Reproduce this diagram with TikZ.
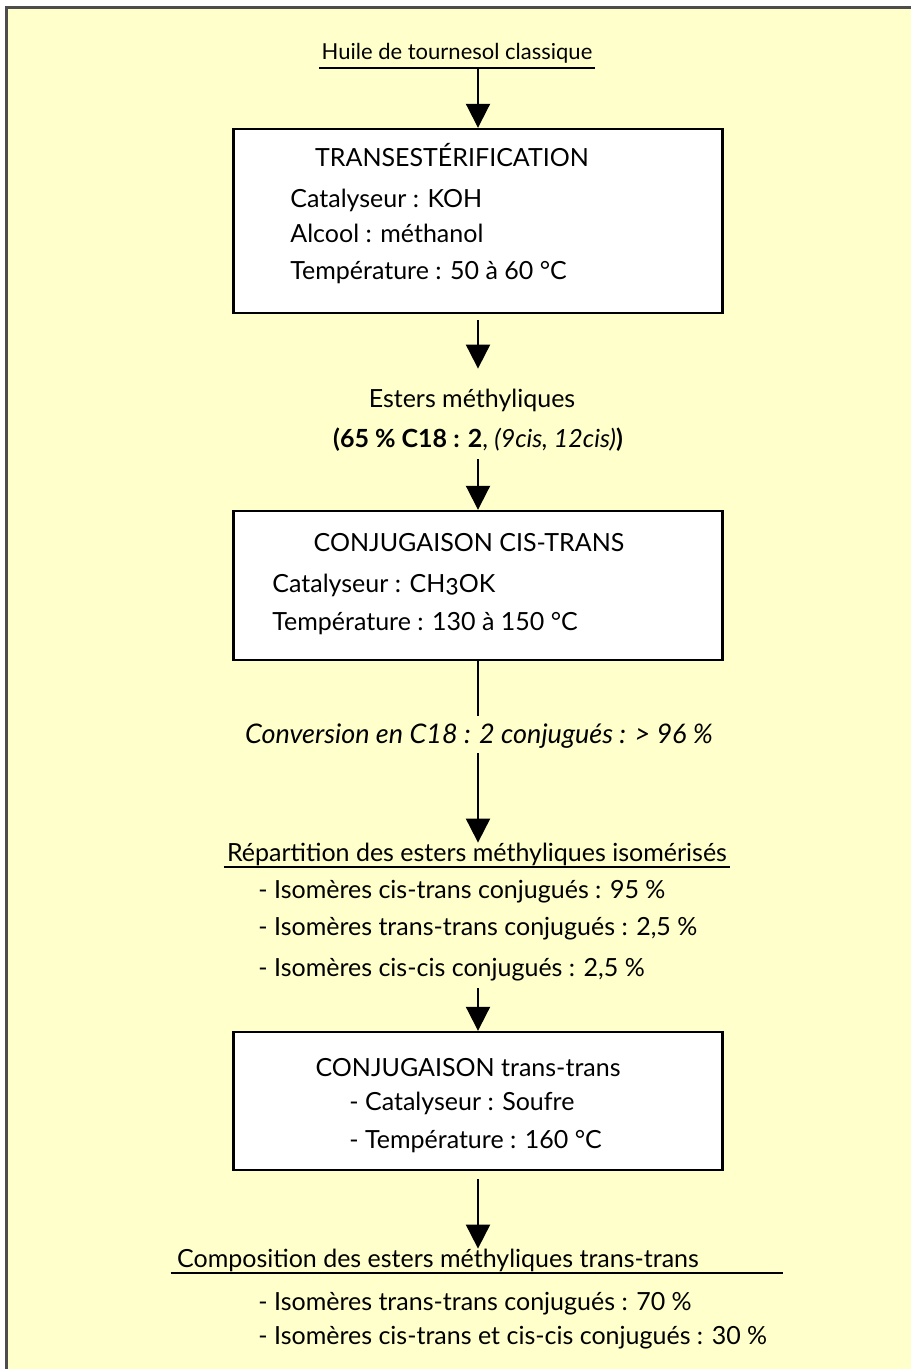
\documentclass[tikz,border=0pt]{standalone}
\usepackage{fontspec}
\setmainfont{Lato}
\usepackage{tikz}
\usetikzlibrary{arrows.meta, positioning}
\definecolor{fond}{HTML}{FFFFCC}
\definecolor{cadre}{HTML}{4D4D4D}
\tikzset{
  boite/.style={
    draw, line width=1.2pt, fill=white,
    minimum width=244.5pt, inner sep=0pt
  },
  texte/.style={
    font=\fontsize{12.5}{14}\selectfont, yshift=-2pt,
    inner sep=0pt, text height=9pt, text depth=3pt
  },
  gauche/.style={texte, anchor=west},
  fleche/.style={-{Triangle[width=12pt,length=12pt]}, line width=1pt},
  trait/.style={line width=1pt}
}

\begin{document}
\begin{tikzpicture}[x=0.5pt, y=-0.5pt]

  \useasboundingbox (0,0) rectangle (911,1369);
  % fond et cadre
  \fill[white] (0,0) rectangle (911,1369);
  \fill[fond] (5,7) rectangle (911,1369);
  \draw[cadre, line width=1.5pt] (6,1369) -- (6,8) -- (911,8);

  % Huile de depart
  \node[texte, font=\fontsize{11}{13}\selectfont, inner sep=1pt] (huile) at (457,50) {Huile de tournesol classique};
  \draw[trait] (huile.south west) -- (huile.south east);

  % Transesterification
  \node[boite, minimum height=92pt] (trans) at (478,221) {};
  \node[texte] (transtitre) at (452,157) {TRANSESTÉRIFICATION};
  \node[gauche] (kat1) at (290,198) {Catalyseur : KOH};
  \node[gauche] (alc) at (290,233) {Alcool : méthanol};
  \node[gauche] (temp1) at (290,270) {Température : 50 à 60 °C};
  \draw[fleche] (huile.south -| trans.north) -- (trans.north);

  % Esters methyliques
  \node[texte] (esters) at (472,397) {Esters méthyliques};
  \node[texte] (teneur) at (478,437) {\textbf{(65 \% C18 : 2}, \textit{(9cis, 12cis)}\textbf{)}};
  \draw[fleche, shorten <=3pt, shorten >=10pt] (trans.south) -- (esters.north -| trans.south);

  % Conjugaison cis-trans
  \node[boite, minimum height=74.5pt] (conj1) at (478,585.5) {};
  \node[texte] (conj1titre) at (469,541) {CONJUGAISON CIS-TRANS};
  \node[gauche] (kat2) at (272,582) {Catalyseur : CH{\addfontfeatures{Numbers=OldStyle}3}OK};
  \node[gauche] (temp2) at (272,620) {Température : 130 à 150 °C};
  \draw[fleche, shorten <=3pt] (teneur.south -| conj1.north) -- (conj1.north);

  % Conversion
  \node[texte, font=\fontsize{13.5}{15}\selectfont\itshape] (conv) at (479,733) {Conversion en C18 : 2 conjugués : > 96 \%};
  \draw[trait, shorten >=4.5pt] (conj1.south) -- (conv.north -| conj1.south);

  % Repartition
  \node[texte, inner xsep=1.5pt] (repart) at (477,851) {Répartition des esters méthyliques isomérisés};
  \draw[trait] (repart.south west) -- (repart.south east);
  \draw[fleche, shorten <=2pt] (conv.south -| conj1.south) -- (repart.north -| conj1.south);
  \node[gauche] (iso1) at (258,888) {- Isomères cis-trans conjugués : 95 \%};
  \node[gauche] (iso2) at (258,925) {- Isomères trans-trans conjugués : 2,5 \%};
  \node[gauche] (iso3) at (258,966) {- Isomères cis-cis conjugués : 2,5 \%};

  % Conjugaison trans-trans
  \node[boite, minimum height=69pt] (conj2) at (478,1101) {};
  \node[texte] (conj2titre) at (468,1066) {CONJUGAISON trans-trans};
  \node[gauche] (kat3) at (349,1100) {- Catalyseur : Soufre};
  \node[gauche] (temp3) at (349,1138) {- Température : 160 °C};
  \draw[fleche, shorten <=3pt] (iso3.south -| conj2.north) -- (conj2.north);

  % Composition finale
  \node[texte] (compo) at (438,1257) {Composition des esters méthyliques trans-trans};
  \coordinate (fin) at (783,0);
  \draw[trait] ([xshift=-3pt]compo.south west) -- (compo.south west -| fin);
  \draw[fleche, shorten <=4pt] (conj2.south) -- (compo.north -| conj2.south);
  \node[gauche] (iso4) at (258,1300) {- Isomères trans-trans conjugués : 70 \%};
  \node[gauche] (iso5) at (258,1334) {- Isomères cis-trans et cis-cis conjugués : 30 \%};

\end{tikzpicture}
\end{document}
